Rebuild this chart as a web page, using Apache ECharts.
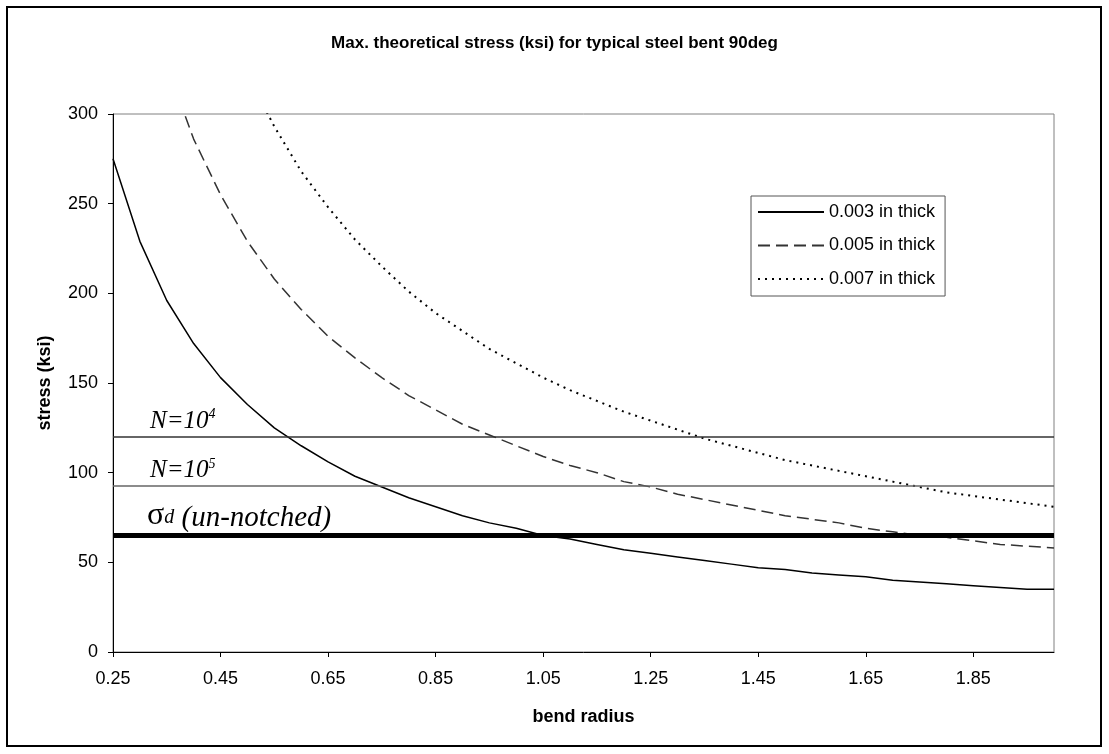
<!DOCTYPE html>
<html><head><meta charset="utf-8">
<script src="https://cdn.jsdelivr.net/npm/echarts@6/dist/echarts.min.js"></script>
<style>html,body{margin:0;padding:0;background:#fff}#c{width:1109px;height:754px}</style>
</head><body><div id="c"></div>
<script>
// bend radius categories
const radius = ['0.25','0.30','0.35','0.40','0.45','0.50','0.55','0.60','0.65','0.70','0.75','0.80',
  '0.85','0.90','0.95','1.00','1.05','1.10','1.15','1.20','1.25','1.30','1.35','1.40',
  '1.45','1.50','1.55','1.60','1.65','1.70','1.75','1.80','1.85','1.90','1.95','2.00'];
// stress (ksi)
const thick003 = [275,229,196,172,153,138,125,115,106,98,92,86,
  81,76,72,69,65,63,60,57,55,53,51,49,
  47,46,44,43,42,40,39,38,37,36,35,35];
const thick005 = [null,null,327,286,255,229,208,191,176,164,153,143,
  135,127,121,115,109,104,100,95,92,88,85,82,
  79,76,74,72,69,67,65,64,62,60,59,58];
const thick007 = [null,null,null,null,null,322,293,268,248,230,215,201,
  189,179,169,161,153,146,140,134,129,124,119,115,
  111,107,104,101,98,95,92,89,87,85,83,81];
const seriesNames = ['0.003 in thick','0.005 in thick','0.007 in thick'];
// reference stress levels
const levelN4 = 120;
const levelN5 = 92.5;
const levelSigmaD = 65;

const FONT = 'Liberation Sans';
const SERIF = 'Liberation Serif';
const chart = echarts.init(document.getElementById('c'), null, {renderer:'canvas'});
chart.setOption({
  animation:false,
  backgroundColor:'#fff',
  title:{text:'Max. theoretical stress (ksi) for typical steel bent 90deg', left:'center', top:30,
    textStyle:{fontFamily:FONT, fontWeight:'bold', fontSize:17, color:'#000'}},
  graphic:[{type:'rect', shape:{x:7,y:7,width:1094,height:739}, style:{fill:null, stroke:'#000', lineWidth:2}, silent:true}],
  legend:{orient:'vertical', left:751, top:196, padding:[7,10,8,6], itemWidth:66, itemHeight:14, itemGap:15.5,
    borderColor:'#555', borderWidth:1, backgroundColor:'#fff',
    itemStyle:{color:'rgba(0,0,0,0)', borderWidth:0, opacity:0},
    textStyle:{fontFamily:FONT, fontSize:18, color:'#000'}, data:seriesNames},
  grid:{left:113, right:55, top:114, bottom:102, show:true, borderColor:'#808080', borderWidth:1, containLabel:false},
  xAxis:{type:'category', data:radius, boundaryGap:false,
    name:'bend radius', nameLocation:'middle', nameGap:56,
    nameTextStyle:{fontFamily:FONT, fontWeight:'bold', fontSize:18, color:'#000'},
    axisLine:{lineStyle:{color:'#000', width:1}},
    axisTick:{interval:3, length:5, lineStyle:{color:'#000'}},
    axisLabel:{interval:3, fontFamily:FONT, fontSize:18, color:'#000', margin:18},
    splitLine:{show:false}},
  yAxis:{type:'value', min:0, max:300, interval:50,
    name:'stress (ksi)', nameLocation:'middle', nameGap:59,
    nameTextStyle:{fontFamily:FONT, fontWeight:'bold', fontSize:18, color:'#000'},
    axisLine:{show:true, lineStyle:{color:'#000', width:1}},
    axisTick:{show:true, length:5, lineStyle:{color:'#000'}},
    axisLabel:{fontFamily:FONT, fontSize:18, color:'#000', margin:15},
    splitLine:{show:false}},
  series:[
    {name:seriesNames[0], type:'line', data:thick003, symbol:'none', clip:true,
      lineStyle:{color:'#000', width:1.5}, itemStyle:{color:'#000'}, z:3,
      markLine:{silent:true, symbol:'none', animation:false,
        data:[
          {yAxis:levelN4, lineStyle:{color:'#333', width:1.5, type:'solid'},
           label:{show:true, position:'insideStartTop', distance:2, padding:[0,0,0,35],
             formatter:'{n|N=10}{sup|4}',
             rich:{n:{fontFamily:SERIF, fontStyle:'italic', fontSize:25, color:'#000'},
                   sup:{fontFamily:SERIF, fontStyle:'italic', fontSize:14, color:'#000', padding:[0,0,13,0]}}}},
          {yAxis:levelN5, lineStyle:{color:'#666', width:1.5, type:'solid'},
           label:{show:true, position:'insideStartTop', distance:2, padding:[0,0,0,35],
             formatter:'{n|N=10}{sup|5}',
             rich:{n:{fontFamily:SERIF, fontStyle:'italic', fontSize:25, color:'#000'},
                   sup:{fontFamily:SERIF, fontStyle:'italic', fontSize:14, color:'#000', padding:[0,0,13,0]}}}},
          {yAxis:levelSigmaD, lineStyle:{color:'#000', width:5, type:'solid'},
           label:{show:true, position:'insideStartTop', distance:-1, padding:[0,0,0,35],
             formatter:'{s|σ}{d|d}{u| (un-notched)}',
             rich:{s:{fontFamily:SERIF, fontSize:32, color:'#000', padding:[0,0,5,0]},
                   d:{fontFamily:SERIF, fontStyle:'italic', fontSize:20, color:'#000'},
                   u:{fontFamily:SERIF, fontStyle:'italic', fontSize:29, color:'#000'}}}}
        ]}},
    {name:seriesNames[1], type:'line', data:thick005, symbol:'none', clip:true, connectNulls:false,
      lineStyle:{color:'#333', width:1.5, type:[12,6]}, itemStyle:{color:'#333'}, z:3},
    {name:seriesNames[2], type:'line', data:thick007, symbol:'none', clip:true,
      lineStyle:{color:'#000', width:2, type:[2,5]}, itemStyle:{color:'#000'}, z:3}
  ]
});
</script></body></html>
